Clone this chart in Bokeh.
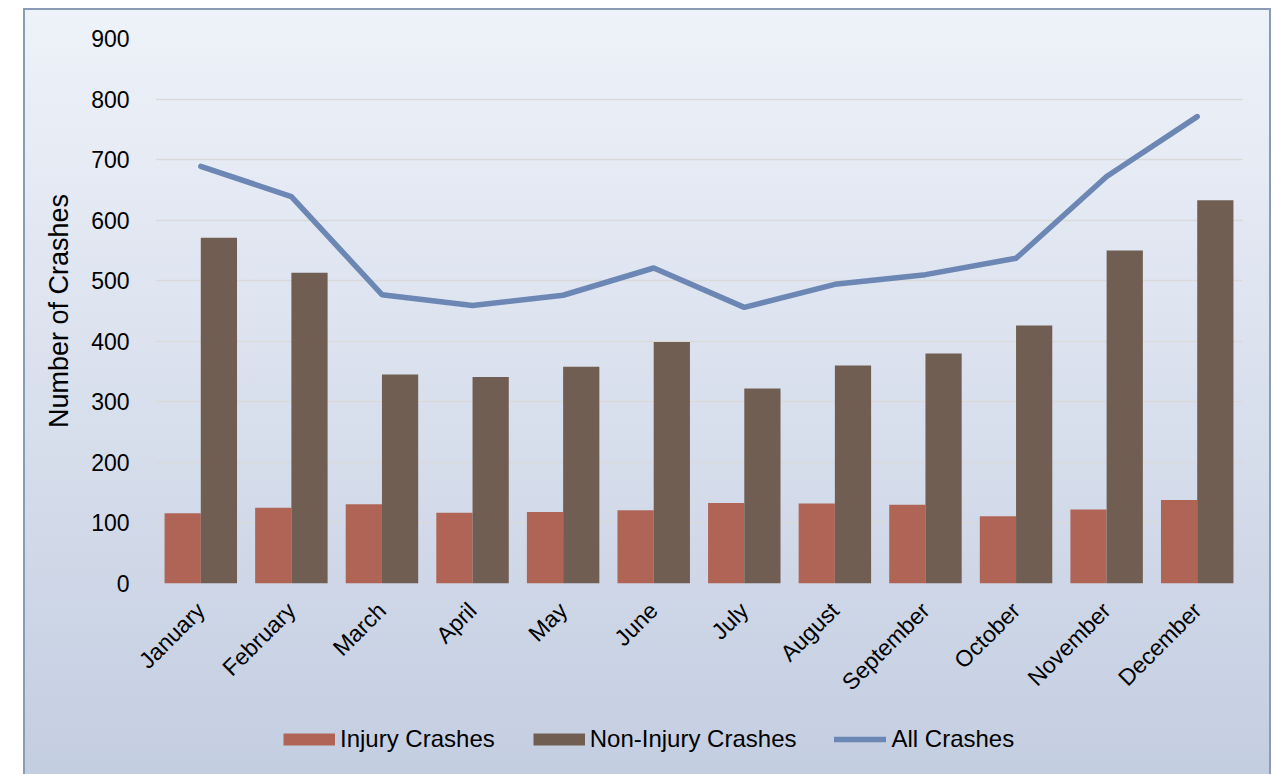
from bokeh.plotting import figure
from bokeh.models import Range1d, FixedTicker, Legend, LegendItem
from bokeh.layouts import column
from bokeh.embed import file_html
from bokeh.resources import INLINE
import math

months = ["January", "February", "March", "April", "May", "June", "July",
          "August", "September", "October", "November", "December"]
injury = [116, 125, 131, 117, 118, 121, 133, 132, 130, 111, 122, 138]
non_injury = [571, 513, 345, 341, 358, 399, 322, 360, 380, 426, 550, 633]
all_crashes = [689, 639, 477, 459, 476, 521, 456, 494, 510, 537, 672, 771]
y_ticks = [0, 100, 200, 300, 400, 500, 600, 700, 800, 900]
series_names = ["Injury Crashes", "Non-Injury Crashes", "All Crashes"]

FONT = "Liberation Sans"
C_INJ, C_NON, C_ALL = "#b06456", "#705e53", "#6c87b4"

p = figure(width=1244, height=700, x_range=Range1d(0, len(months)), y_range=Range1d(0, 900),
           output_backend="svg", toolbar_location=None,
           min_border_left=130, min_border_right=27, min_border_top=28, min_border_bottom=127,
           background_fill_alpha=0, border_fill_alpha=0, outline_line_color=None)

centers = [i + 0.5 for i in range(len(months))]
inj_x = [c - 0.2 for c in centers]
non_x = [c + 0.2 for c in centers]

p.vbar(x=inj_x, top=injury, width=0.4, fill_color=C_INJ, line_color=None)
p.vbar(x=non_x, top=non_injury, width=0.4, fill_color=C_NON, line_color=None)
p.line(x=centers, y=all_crashes, line_color=C_ALL, line_width=5.5,
       line_cap="round", line_join="round")

# axes
p.yaxis.ticker = FixedTicker(ticks=y_ticks)
p.yaxis.axis_line_color = None
p.yaxis.major_tick_line_color = None
p.yaxis.minor_tick_line_color = None
p.yaxis.major_label_standoff = 20
p.yaxis.major_label_text_font = FONT
p.yaxis.major_label_text_font_size = "23px"
p.yaxis.major_label_text_color = "#000000"
p.yaxis.axis_label = "Number of Crashes"
p.yaxis.axis_label_text_font = FONT
p.yaxis.axis_label_text_font_size = "27px"
p.yaxis.axis_label_text_font_style = "normal"
p.yaxis.axis_label_text_color = "#000000"
p.yaxis.axis_label_standoff = 14

p.xaxis.ticker = FixedTicker(ticks=centers)
p.xaxis.major_label_overrides = {t: m for t, m in zip(centers, months)}
p.xaxis.major_label_orientation = math.pi / 4
p.xaxis.axis_line_color = None
p.xaxis.major_tick_line_color = None
p.xaxis.minor_tick_line_color = None
p.xaxis.major_label_standoff = 17
p.xaxis.major_label_text_font = FONT
p.xaxis.major_label_text_font_size = "23px"
p.xaxis.major_label_text_color = "#000000"

p.xgrid.grid_line_color = None
p.ygrid.ticker = FixedTicker(ticks=y_ticks)
p.ygrid.grid_line_color = "#d9d9d9"
p.ygrid.grid_line_width = 1.5

# legend strip: its renderers hold the same series, drawn above its visible view
lg = figure(width=1244, height=64, x_range=Range1d(0, len(months)), y_range=Range1d(-3000, -2000),
            output_backend="svg", toolbar_location=None, min_border=0,
            x_axis_type=None, y_axis_type=None,
            background_fill_alpha=0, border_fill_alpha=0, outline_line_color=None)
lg.xgrid.visible = False
lg.ygrid.visible = False
k1 = lg.line(x=centers, y=injury, line_color=C_INJ, line_width=12, line_cap="butt")
k2 = lg.line(x=centers, y=non_injury, line_color=C_NON, line_width=12, line_cap="butt")
k3 = lg.line(x=centers, y=all_crashes, line_color=C_ALL, line_width=5.5, line_cap="round")

legend = Legend(items=[LegendItem(label=series_names[0], renderers=[k1]),
                       LegendItem(label=series_names[1], renderers=[k2]),
                       LegendItem(label=series_names[2], renderers=[k3])],
                orientation="horizontal", location=(128, 21),
                glyph_width=52, glyph_height=14, label_standoff=5, spacing=38,
                padding=0, margin=0, border_line_color=None, background_fill_alpha=0,
                label_text_font=FONT, label_text_font_size="24px", label_text_color="#000000")
lg.add_layout(legend, "center")

layout = column(p, lg, spacing=0, margin=(8, 0, 0, 23),
                styles={"background": "linear-gradient(to bottom, #eef2f9 0%, #c4cee1 100%)",
                        "border-top": "2px solid #8b9bb5", "border-left": "2px solid #8b9bb5",
                        "border-right": "2px solid #8b9bb5"})

open("out.html", "w").write(file_html(layout, INLINE))
